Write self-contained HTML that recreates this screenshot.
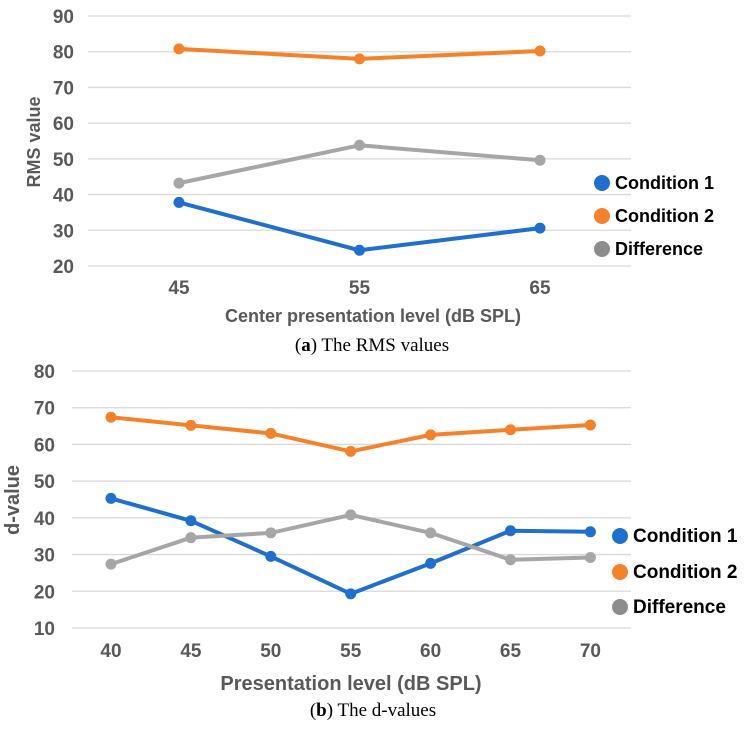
<!DOCTYPE html>
<html><head><meta charset="utf-8"><style>
html,body{margin:0;padding:0;background:#fff}
svg text{font-family:"Liberation Sans",sans-serif}
</style></head><body>
<svg id="chart" width="744" height="724" viewBox="0 0 744 724" xmlns="http://www.w3.org/2000/svg">
<g id="top"></g>
<g id="bot"></g>
<text x="372" y="351" text-anchor="middle" font-size="19" fill="#000" style="font-family:'Liberation Serif',serif">(<tspan font-weight="bold">a</tspan>) The RMS values</text>
<text x="373" y="716" text-anchor="middle" font-size="19" fill="#000" style="font-family:'Liberation Serif',serif">(<tspan font-weight="bold">b</tspan>) The d-values</text>
</svg>
<script>
const topCategories = ["45","55","65"];
const topCond1 = [37.8, 24.4, 30.6];
const topCond2 = [80.8, 78.0, 80.2];
const topDiff = [43.2, 53.8, 49.6];
const topTicks = [20,30,40,50,60,70,80,90];
const botCategories = ["40","45","50","55","60","65","70"];
const botCond1 = [45.3, 39.2, 29.5, 19.3, 27.6, 36.5, 36.2];
const botCond2 = [67.4, 65.2, 63.0, 58.1, 62.6, 64.0, 65.3];
const botDiff = [27.4, 34.6, 35.9, 40.8, 35.9, 28.6, 29.2];
const botTicks = [10,20,30,40,50,60,70,80];
const seriesNames = ["Condition 1","Condition 2","Difference"];
const colors = ["#1f6fcf","#f5822a","#a6a6a6"];
const legendColors = ["#1f6fcf","#f5822a","#8c8c8c"];
const NS="http://www.w3.org/2000/svg";
function mk(p,tag,a){const e=document.createElementNS(NS,tag);for(const k in a)e.setAttribute(k,a[k]);p.appendChild(e);return e;}
function draw(g,cfg){
  const ymin=cfg.ticks[0],ymax=cfg.ticks[cfg.ticks.length-1];
  const y=v=>cfg.yB-(v-ymin)/(ymax-ymin)*(cfg.yB-cfg.yT);
  const x=i=>cfg.x0+i*cfg.dx;
  cfg.ticks.forEach(t=>{
    const l=mk(g,'line',{x1:cfg.gx0,x2:cfg.gx1,y1:y(t),y2:y(t),stroke:'#d9d9d9','stroke-width':1.3});
    
    
    const tx=mk(g,'text',{x:cfg.lx,y:y(t)+7,'text-anchor':'end','font-size':19,'font-weight':'bold',fill:'#595959'});
    tx.textContent=t;
    
    
  });
  cfg.cats.forEach((c,i)=>{
    const tx=mk(g,'text',{x:x(i),y:cfg.xly,'text-anchor':'middle','font-size':19,'font-weight':'bold',fill:'#595959'});
    tx.textContent=c;
    
    
  });
  cfg.series.forEach((s,si)=>{
    const pts=s.map((v,i)=>x(i)+','+y(v)).join(' ');
    const pl=mk(g,'polyline',{points:pts,fill:'none',stroke:colors[si],'stroke-width':4,'stroke-linejoin':'round'});
    
    
    s.forEach((v,i)=>{
      const c=mk(g,'circle',{cx:x(i),cy:y(v),r:5.5,fill:colors[si]});
      
      
    });
  });
  seriesNames.forEach((n,i)=>{
    const c=mk(g,'circle',{cx:cfg.legX,cy:cfg.legY[i],r:8,fill:legendColors[i]});
    
    
    const t=mk(g,'text',{x:cfg.legX+13,y:cfg.legY[i]+6,'font-size':cfg.legF,'font-weight':'bold',fill:'#000'});
    t.textContent=n;
    
    
  });
  const xt=mk(g,'text',{x:cfg.xtx,y:cfg.xty,'text-anchor':'middle','font-size':cfg.xtf,'font-weight':'bold',fill:'#595959'});
  xt.textContent=cfg.xtitle;
  
  
  const yt=mk(g,'text',{x:0,y:0,'text-anchor':'middle','font-size':cfg.ytf,'font-weight':'bold',fill:'#595959',transform:'translate('+cfg.ytx+','+cfg.yty+') rotate(-90)'});
  yt.textContent=cfg.ytitle;
  
  
}
draw(document.getElementById('top'),{ticks:topTicks,cats:topCategories,series:[topCond1,topCond2,topDiff],
  yT:16,yB:266,x0:179,dx:180.5,gx0:88,gx1:631,lx:74,xly:294,legX:602,legY:[183,216,249],legF:18,
  xtitle:"Center presentation level (dB SPL)",xtx:373,xty:322,xtf:18,ytitle:"RMS value",ytx:40,yty:142,ytf:18});
draw(document.getElementById('bot'),{ticks:botTicks,cats:botCategories,series:[botCond1,botCond2,botDiff],
  yT:371,yB:628,x0:111,dx:79.9,gx0:72,gx1:631,lx:55,xly:657,legX:620,legY:[536,572,607],legF:19,
  xtitle:"Presentation level (dB SPL)",xtx:351,xty:690,xtf:20,ytitle:"d-value",ytx:19,yty:500,ytf:20});
</script>
</body></html>
